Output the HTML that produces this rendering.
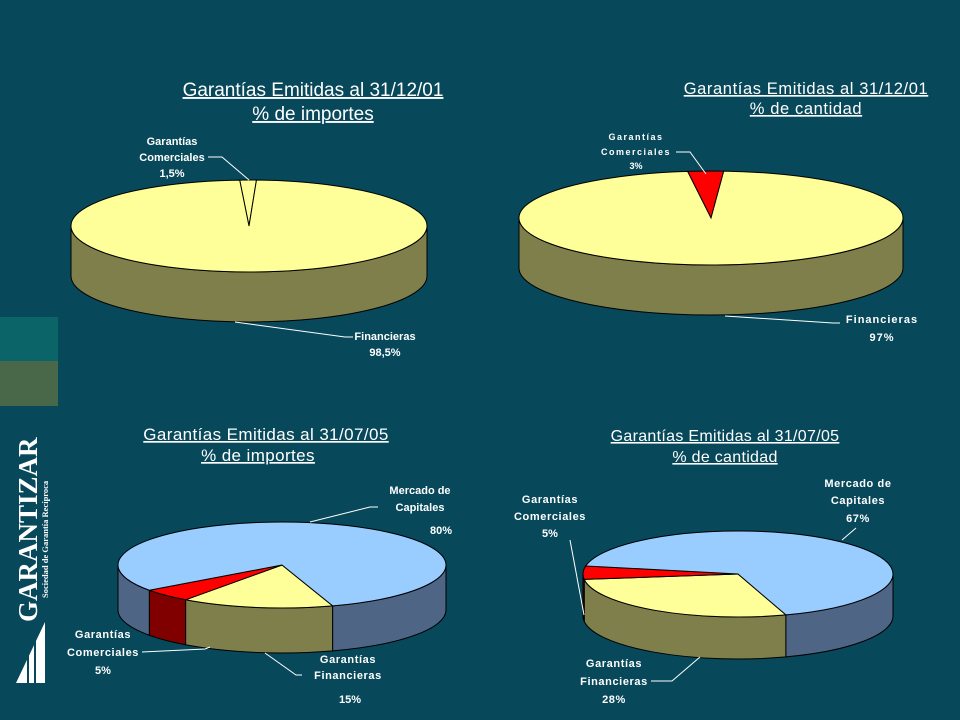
<!DOCTYPE html>
<html><head><meta charset="utf-8">
<style>
body{margin:0;background:#07485A;}
#wrap{position:relative;width:960px;height:720px;overflow:hidden;background:#07485A;font-family:"Liberation Sans",Arial,sans-serif;}
svg text{font-family:"Liberation Sans",Arial,sans-serif;}
</style></head>
<body>
<div id="wrap">
<svg id="svg" width="960" height="720">
  <rect x="0" y="317" width="58" height="44" fill="#0A6468"/>
  <rect x="0" y="361" width="58" height="45" fill="#49684A"/>
  <g>
    <text transform="translate(37,622) rotate(-90)" fill="#fff" font-weight="bold" font-size="27" style="font-family:'Liberation Serif',serif">GARANTIZAR</text>
    <text transform="translate(48,598) rotate(-90)" fill="#fff" font-weight="bold" font-size="8.5" style="font-family:'Liberation Serif',serif">Sociedad de Garantía Recíproca</text>
    <polygon points="45,622 45,683 16,683" fill="#fff"/>
    <line x1="28" y1="650" x2="28" y2="683" stroke="#07485A" stroke-width="2"/>
    <line x1="35" y1="640" x2="35" y2="683" stroke="#07485A" stroke-width="2"/>
  </g>
  <g id="charts"></g>
</svg>
</div>
<script>
// Chart 1: importes 31/12/01
const c1Categories = ["Garantías Comerciales", "Financieras"];
const c1Values = [1.5, 98.5];
// Chart 2: cantidad 31/12/01
const c2Categories = ["Garantías Comerciales", "Financieras"];
const c2Values = [3, 97];
// Chart 3: importes 31/07/05
const c3Categories = ["Garantías Financieras", "Garantías Comerciales", "Mercado de Capitales"];
const c3Values = [15, 5, 80];
// Chart 4: cantidad 31/07/05
const c4Categories = ["Garantías Financieras", "Garantías Comerciales", "Mercado de Capitales"];
const c4Values = [28, 5, 67];

const NS = "http://www.w3.org/2000/svg";
const root = document.getElementById('charts');
function mk(tag, attrs, parent){
  const e = document.createElementNS(NS, tag);
  for (const k in attrs) e.setAttribute(k, attrs[k]);
  (parent||root).appendChild(e);
  return e;
}
function pie3d(cfg, values, cats, tops, sides, name){
  const g = mk('g', {});
  
  
  const {cx, cy, rx, ry, d, start} = cfg;
  const total = values.reduce((a,b)=>a+b,0);
  const pt = (a, dy) => { const r = a*Math.PI/180; return [cx+rx*Math.cos(r), cy+ry*Math.sin(r)+(dy||0)]; };
  let a = start;
  const slices = values.map((v,i)=>{ const s = a; a += v/total*360; return {s, e:a, i}; });
  slices.forEach(sl=>{
    let s0 = ((sl.s%360)+360)%360, e0 = s0 + (sl.e-sl.s);
    [[0,180],[360,540]].forEach(([lo,hi])=>{
      const s = Math.max(s0,lo), e = Math.min(e0,hi);
      if (e > s + 0.01){
        const p1 = pt(s), p2 = pt(e), p3 = pt(e,d), p4 = pt(s,d);
        const p = mk('path', {d:`M${p1} A${rx} ${ry} 0 0 1 ${p2} L${p3} A${rx} ${ry} 0 0 0 ${p4} Z`, fill:sides[sl.i], stroke:'#000', 'stroke-width':1}, g);
        
        
      }
    });
  });
  slices.forEach(sl=>{
    const p1 = pt(sl.s), p2 = pt(sl.e);
    const large = (sl.e - sl.s) > 180 ? 1 : 0;
    const p = mk('path', {d:`M${cx},${cy} L${p1} A${rx} ${ry} 0 ${large} 1 ${p2} Z`, fill:tops[sl.i], stroke:'#000', 'stroke-width':1}, g);
    
    
  });
}
pie3d({cx:249, cy:226, rx:178, ry:46, d:50, start:267}, c1Values, c1Categories, ['#FFFF99','#FFFF99'], ['#7F7F4C','#7F7F4C'], 'pie-importes-2001');
pie3d({cx:711, cy:218, rx:192, ry:47, d:50, start:263}, c2Values, c2Categories, ['#FF0000','#FFFF99'], ['#800000','#7F7F4C'], 'pie-cantidad-2001');
pie3d({cx:282, cy:565, rx:164, ry:43, d:45, start:72}, c3Values, c3Categories, ['#FFFF99','#FF0000','#99CCFF'], ['#7F7F4C','#800000','#4F6585'], 'pie-importes-2005');
pie3d({cx:738, cy:574, rx:155, ry:43, d:42, start:72}, c4Values, c4Categories, ['#FFFF99','#FF0000','#99CCFF'], ['#7F7F4C','#800000','#4F6585'], 'pie-cantidad-2005');

function txt(x, y, s, size, name, opts){
  opts = opts || {};
  const t = mk('text', {x, y, fill:'#fff', 'font-size':size, 'text-anchor':'middle', 'font-weight':opts.bold===false?'normal':'bold', 'text-decoration':opts.u?'underline':'none', 'letter-spacing':opts.ls||0});
  t.textContent = s;
  
  
}
function line(pts, name){
  const p = mk('polyline', {points:pts, fill:'none', stroke:'#fff', 'stroke-width':1});
  
  
}
txt(313, 96, 'Garantías Emitidas al 31/12/01', 19, 'title-1', {bold:false,u:true});
txt(313, 120, '% de importes', 19, 'subtitle-1', {bold:false,u:true});
txt(806, 94, 'Garantías Emitidas al 31/12/01', 16.5, 'title-2', {bold:false,u:true,ls:0.6});
txt(806, 114, '% de cantidad', 16.5, 'subtitle-2', {bold:false,u:true,ls:0.6});
txt(266, 440, 'Garantías Emitidas al 31/07/05', 17, 'title-3', {bold:false,u:true,ls:0.4});
txt(258, 461, '% de importes', 17, 'subtitle-3', {bold:false,u:true,ls:0.4});
txt(725, 441, 'Garantías Emitidas al 31/07/05', 16, 'title-4', {bold:false,u:true,ls:0.3});
txt(725, 462, '% de cantidad', 16, 'subtitle-4', {bold:false,u:true,ls:0.3});
txt(172, 145, 'Garantías', 11, 'label-c1-com-1'); txt(172, 161, 'Comerciales', 11, 'label-c1-com-2'); txt(172, 177, '1,5%', 11, 'label-c1-com-3');
line('208,157 222,157 249,180', 'leader-c1-com');
txt(385, 340, 'Financieras', 11, 'label-c1-fin-1'); txt(385, 356, '98,5%', 11, 'label-c1-fin-2');
line('235,322 345,337 353,337', 'leader-c1-fin');
txt(636, 140, 'Garantías', 9, 'label-c2-com-1', {ls:1.5}); txt(636, 155, 'Comerciales', 9, 'label-c2-com-2', {ls:1.5}); txt(636, 169, '3%', 9, 'label-c2-com-3');
line('676,152 690,152 706,174', 'leader-c2-com');
txt(882, 323, 'Financieras', 11, 'label-c2-fin-1', {ls:1}); txt(882, 341, '97%', 11, 'label-c2-fin-2', {ls:1});
line('725,316 833,323 840,323', 'leader-c2-fin');
txt(420, 494, 'Mercado de', 11, 'label-c3-mc-1'); txt(420, 511, 'Capitales', 11, 'label-c3-mc-2'); txt(441, 534, '80%', 11, 'label-c3-mc-3');
line('310,522 370,507 378,507', 'leader-c3-mc');
txt(103, 638, 'Garantías', 11, 'label-c3-com-1', {ls:0.6}); txt(103, 656, 'Comerciales', 11, 'label-c3-com-2', {ls:0.6}); txt(103, 674, '5%', 11, 'label-c3-com-3');
line('142,652 205,649 210,647', 'leader-c3-com');
txt(348, 663, 'Garantías', 11, 'label-c3-fin-1', {ls:0.6}); txt(348, 679, 'Financieras', 11, 'label-c3-fin-2', {ls:0.6}); txt(350, 703, '15%', 11, 'label-c3-fin-3');
line('265,653 296,675 302,675', 'leader-c3-fin');
txt(858, 487, 'Mercado de', 11, 'label-c4-mc-1', {ls:0.6}); txt(858, 504, 'Capitales', 11, 'label-c4-mc-2', {ls:0.6}); txt(858, 522, '67%', 11, 'label-c4-mc-3', {ls:0.6});
line('856,528 842,540', 'leader-c4-mc');
txt(550, 503, 'Garantías', 11, 'label-c4-com-1', {ls:0.6}); txt(550, 520, 'Comerciales', 11, 'label-c4-com-2', {ls:0.6}); txt(550, 537, '5%', 11, 'label-c4-com-3');
line('570,540 584,615', 'leader-c4-com');
txt(614, 667, 'Garantías', 11, 'label-c4-fin-1', {ls:0.6}); txt(614, 685, 'Financieras', 11, 'label-c4-fin-2', {ls:0.6}); txt(614, 703, '28%', 11, 'label-c4-fin-3', {ls:0.6});
line('651,681 672,681 700,657', 'leader-c4-fin');
</script>
</body></html>
